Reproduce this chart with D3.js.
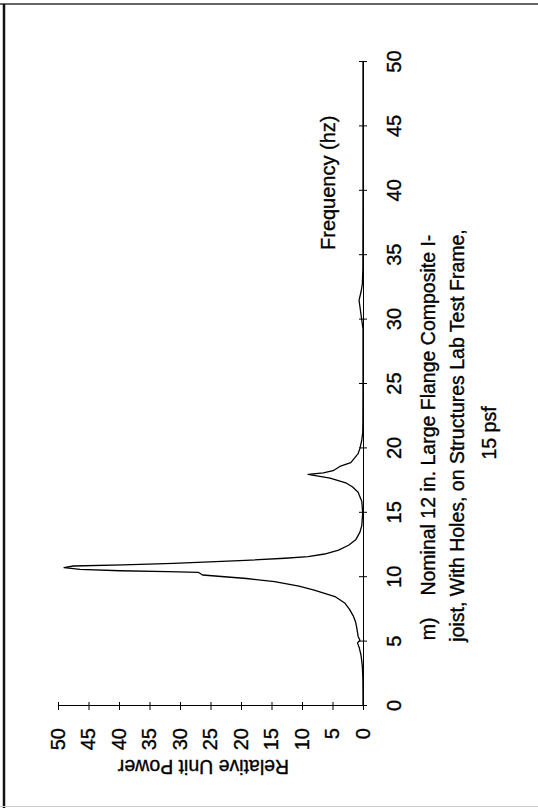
<!DOCTYPE html>
<html>
<head>
<meta charset="utf-8">
<script src="https://cdn.jsdelivr.net/npm/d3@7"></script>
<style>
  html, body { margin: 0; padding: 0; background: #fff; }
  svg { display: block; }
  text { font-family: "Liberation Sans", Arial, Helvetica, sans-serif; fill: #000; stroke: #000; stroke-width: 0.35px; }
</style>
</head>
<body>
<script>
// Frequency axis ticks (Hz) and power axis ticks
const freqTicks = [0, 5, 10, 15, 20, 25, 30, 35, 40, 45, 50];
const powerTicks = [0, 5, 10, 15, 20, 25, 30, 35, 40, 45, 50];

// Measured power spectrum
const freqHz = [0, 1, 2, 2.5, 3.0, 3.5, 4.0, 4.5, 4.9, 5.1,
  5.4, 6.0, 6.5, 7.0, 7.5, 8.0, 8.5, 9.0, 9.3, 9.65,
  9.9, 10.17, 10.38, 10.43, 10.5, 10.6, 10.74, 10.87, 10.95, 11.08,
  11.28, 11.47, 11.6, 11.8, 12.1, 12.5, 12.9, 13.5, 14.0, 15.0,
  15.9, 16.6, 17.0, 17.3, 17.7, 17.98, 18.1, 18.27, 18.6, 18.9,
  19.3, 19.6, 20.0, 20.65, 21.2, 22, 25, 29.3, 30.3, 31.0,
  31.5, 32.2, 32.8, 34, 40, 45, 50];
const relPower = [0, 0, 0.02, 0.05, 0.1, 0.2, 0.35, 0.6, 0.9, 0.5,
  0.8, 1.0, 1.2, 1.6, 2.2, 3.0, 4.6, 8.0, 10.5, 14.5,
  19.1, 26.3, 27.0, 32.0, 39.8, 46.4, 49.0, 47.5, 39.3, 31.1,
  20.2, 12.8, 9.0, 6.3, 4.0, 2.3, 1.2, 0.5, 0.2, 0.05,
  0.2, 0.8, 1.7, 2.7, 5.4, 9.0, 6.5, 4.9, 3.8, 2.0,
  1.3, 0.8, 0.5, 0.2, 0.05, 0.02, 0, 0, 0.3, 0.5,
  0.65, 0.3, 0.1, 0.02, 0, 0, 0];

const xTitle = "Frequency (hz)";
const yTitle = "Relative Unit Power";
const captionTag = "m)";
const captionLines = [
  "Nominal 12 in. Large Flange Composite I-",
  "joist, With Holes, on Structures Lab Test Frame,",
  "15 psf"
];

const W = 538, H = 808;
const svg = d3.select("body").append("svg")
  .attr("width", W).attr("height", H);

svg.append("rect").attr("width", W).attr("height", H).attr("fill", "#fff");

// page frame
svg.append("line").attr("x1", 0).attr("x2", W).attr("y1", 4).attr("y2", 4)
  .attr("stroke", "#333").attr("stroke-width", 1.5);
svg.append("line").attr("x1", 4).attr("x2", 4).attr("y1", 4).attr("y2", H)
  .attr("stroke", "#111").attr("stroke-width", 2.5);
svg.append("line").attr("x1", 0).attr("x2", W).attr("y1", 806.5).attr("y2", 806.5)
  .attr("stroke", "#ccc").attr("stroke-width", 1);

// the chart is laid out landscape (808 wide, 538 tall) and turned a quarter turn
const g = svg.append("g").attr("transform", `translate(0,${H}) rotate(-90)`);

const x = d3.scaleLinear().domain([0, 50]).range([102, 746]);
const y = d3.scaleLinear().domain([0, 50]).range([363, 58]);

const fs = 20;
const capFs = 19.5;

// frequency axis
const xAxis = g.append("g").attr("transform", `translate(0,${y(0)})`)
  .call(d3.axisBottom(x).tickValues(freqTicks).tickSizeOuter(0).tickSize(4).tickPadding(0));
xAxis.selectAll(".tick line").attr("y1", -4).attr("y2", 4);
xAxis.selectAll(".tick text").attr("y", 24).attr("dy", "0.71em")
  .style("font-size", fs + "px");

// power axis
const yAxis = g.append("g").attr("transform", `translate(${x(0)},0)`)
  .call(d3.axisLeft(y).tickValues(powerTicks).tickSizeOuter(0).tickSize(4).tickPadding(0));
yAxis.selectAll(".tick line").attr("x1", -4).attr("x2", 4);
yAxis.selectAll(".tick text").attr("x", -22)
  .style("font-size", fs + "px");

g.selectAll(".domain").attr("stroke", "#000").attr("stroke-width", 1);
g.selectAll(".tick line").attr("stroke", "#000").attr("stroke-width", 1);
g.selectAll("g").attr("font-family", null).attr("font-size", null);

// spectrum trace
const pts = freqHz.map((f, i) => [f, relPower[i]]);
g.append("path")
  .datum(pts)
  .attr("fill", "none")
  .attr("stroke", "#000")
  .attr("stroke-width", 1.3)
  .attr("stroke-linejoin", "round")
  .attr("d", d3.line().x(d => x(d[0])).y(d => y(d[1])));

// axis titles
g.append("text")
  .attr("x", 558).attr("y", 335)
  .style("font-size", fs + "px")
  .text(xTitle);

g.append("text")
  .attr("transform", `translate(48,203.5) rotate(-90)`)
  .attr("text-anchor", "middle")
  .style("font-size", capFs + "px")
  .text(yTitle);

// caption
const capX = [370.5, 372.5, 375];
const capY = [435, 464, 496];
const cap0 = g.append("text")
  .attr("x", capX[0]).attr("y", capY[0])
  .attr("text-anchor", "middle")
  .style("font-size", capFs + "px");
cap0.append("tspan").text(captionTag);
cap0.append("tspan").attr("dx", 22).text(captionLines[0]);

captionLines.slice(1).forEach((t, i) => {
  g.append("text")
    .attr("x", capX[i + 1]).attr("y", capY[i + 1])
    .attr("text-anchor", "middle")
    .style("font-size", capFs + "px")
    .text(t);
});
</script>
</body>
</html>
